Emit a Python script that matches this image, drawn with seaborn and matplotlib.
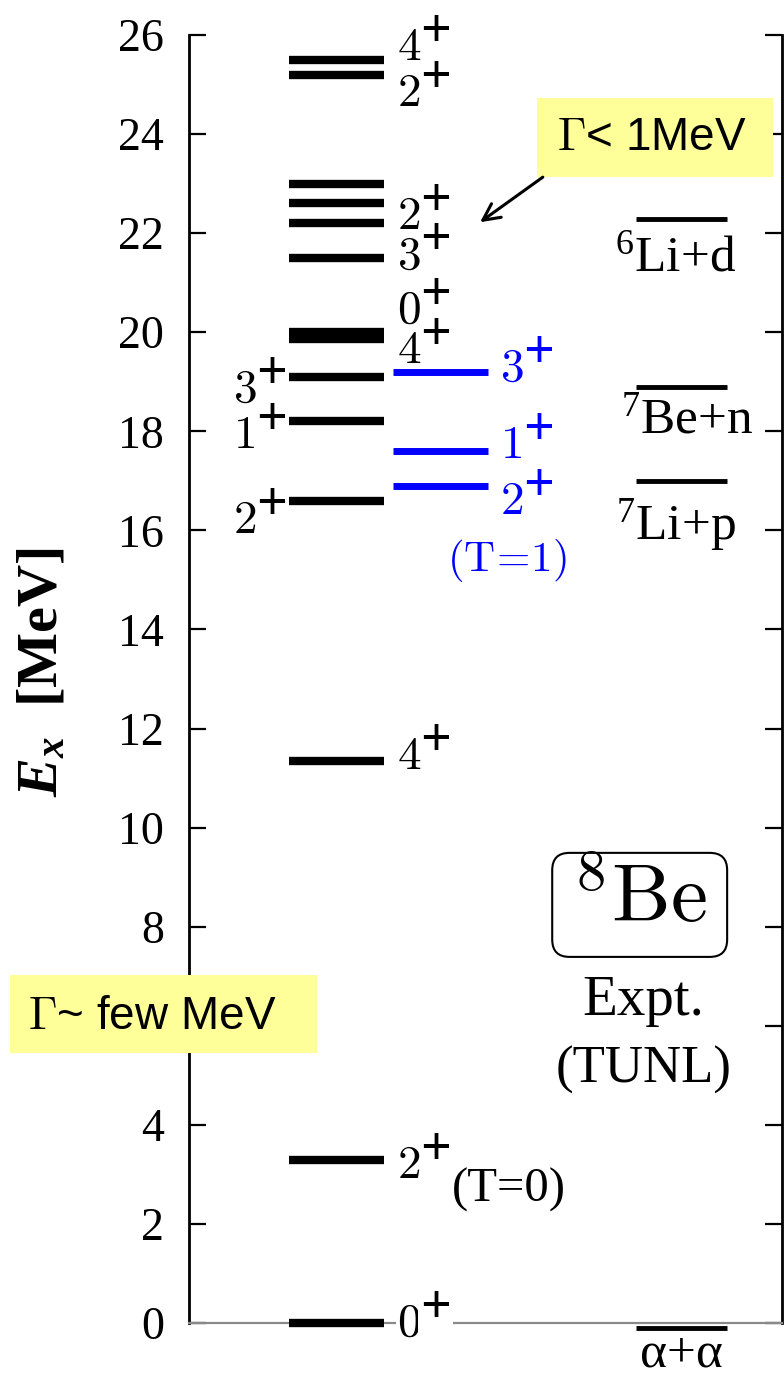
import matplotlib
matplotlib.use("Agg")
import matplotlib.pyplot as plt
from matplotlib.patches import Rectangle, FancyBboxPatch
import seaborn as sns

# ---------------- data ----------------
t0_levels = [0.0, 3.3, 11.35, 16.6, 18.2, 19.1, 19.86, 20.0, 21.5, 22.2, 22.6, 23.0, 25.2, 25.5]
t1_levels = [16.9, 17.6, 19.2]
thr_levels = [-0.1, 17.0, 18.9, 22.28]
thr_names = ["α+α", r"$^{\mathrm{7}}$Li+p", r"$^{\mathrm{7}}$Be+n", r"$^{\mathrm{6}}$Li+d"]
thr_label_y = [-0.64, 16.1, 18.23, 21.5]
thr_label_x = [9.96, 9.85, 10.08, 9.85]

right_jp = ["0", "2", "4", "4", "0", "3", "2", "2", "4"]
right_jp_y = [0.05, 3.23, 11.5, 19.68, 20.5, 21.6, 22.4, 24.87, 25.8]
left_jp = ["2", "1", "3"]
left_jp_y = [16.25, 17.98, 18.9]
t1_jp = ["2", "1", "3"]
t1_jp_y = [16.65, 17.77, 19.32]

yticks = list(range(0, 27, 2))
ytick_labels = [str(v) if v != 6 else "" for v in yticks]

# ---------------- style ----------------
sns.set_style("ticks")
plt.rcParams.update({
    "font.family": ["Liberation Serif", "DejaVu Serif"],
    "text.color": "black",
    "axes.labelcolor": "black",
    "ytick.color": "black",
    "xtick.color": "black",
    "mathtext.fontset": "cm",
    "mathtext.rm": "Liberation Serif",
    "mathtext.it": "Liberation Serif:italic:bold",
    "mathtext.bf": "Liberation Serif:bold",
})

W, H = 784, 1376
fig = plt.figure(figsize=(W / 100, H / 100), dpi=100)
x0, x1 = 189, 782
y0 = 1323
ppu = 49.54
ax = fig.add_axes([x0 / W, 1 - y0 / H, (x1 - x0) / W, y0 / H])
ax.set_xlim(0, 12)
ax.set_ylim(0, y0 / ppu)

# spines
for s in ["left", "right"]:
    ax.spines[s].set_bounds(0, 26)
    ax.spines[s].set_linewidth(2)
    ax.spines[s].set_color("black")
ax.spines["top"].set_visible(False)
ax.spines["bottom"].set_color("#8a8a8a")
ax.spines["bottom"].set_linewidth(1.6)

ax.set_yticks(yticks)
ax.set_yticklabels(ytick_labels)
ax.set_xticks([])
ax.tick_params(axis="y", direction="in", length=12, width=1.6, left=True, right=True,
               labelleft=True, labelright=False, labelsize=33, pad=18,
               colors="black", labelcolor="black")
for lab in ax.get_yticklabels():
    lab.set_fontfamily("Liberation Serif")

# ---------------- levels ----------------
ax.hlines(t0_levels, 2.02, 3.95, colors="black", linewidth=6.0, zorder=3, clip_on=False)
ax.hlines(t1_levels, 4.13, 6.05, colors="#0000ff", linewidth=5.0, zorder=3, clip_on=False)
ax.hlines(thr_levels, 9.05, 10.89, colors="black", linewidth=3.5, zorder=3, clip_on=False)

half = 0.31
PX = 72 / 100  # points per pixel


def jp_label(x, y, digit, color, white_bg=False):
    kw = {}
    if white_bg:
        kw = dict(bbox=dict(facecolor="white", edgecolor="none", pad=1))
    ax.text(x, y - half, rf"${digit}$", fontsize=34, ha="left", va="baseline",
            color=color, zorder=4, clip_on=False, **kw)
    ax.annotate("+", xy=(x, y - half), xytext=(23 * PX, 14 * PX),
                textcoords="offset points", fontsize=39, fontweight="bold",
                fontfamily="Liberation Serif", ha="left", va="baseline",
                color=color, zorder=4, annotation_clip=False, **kw)


for jp, y in zip(right_jp, right_jp_y):
    jp_label(4.21, y, jp, "black", white_bg=(y < 1))
for jp, y in zip(left_jp, left_jp_y):
    jp_label(0.89, y, jp, "black")
for jp, y in zip(t1_jp, t1_jp_y):
    jp_label(6.29, y, jp, "#0000ff")

ax.text(6.43, 15.4, r"$\mathrm{(T\!=\!1)}$", fontsize=31, ha="center", va="center", color="#0000ff")
ax.text(5.32, 2.68, "(T=0)", fontsize=35, ha="left", va="center", color="black",
        fontfamily="Liberation Serif")

for name, tx, ty in zip(thr_names, thr_label_x, thr_label_y):
    ax.text(tx, ty, name, fontsize=37, ha="center", va="center", color="black",
            fontfamily="Liberation Serif", math_fontfamily="custom", clip_on=False)

# 8Be box
box = FancyBboxPatch((7.35, 7.39), 10.89 - 7.35, 9.49 - 7.39,
                     boxstyle="round,pad=0,rounding_size=0.35",
                     facecolor="white", edgecolor="black", linewidth=1.5, zorder=3)
ax.add_patch(box)
ax.text(9.13, 8.5, r"$^{8}\mathrm{Be}$", fontsize=60, ha="center", va="center",
        math_fontfamily="cm", zorder=4, color="black")
ax.text(9.19, 6.5, "Expt.", fontsize=41, ha="center", va="center", fontfamily="Liberation Serif")
ax.text(9.19, 5.11, "(TUNL)", fontsize=38, ha="center", va="center", fontfamily="Liberation Serif")

# yellow annotation boxes
yellow = "#ffff99"
ax.add_patch(Rectangle((7.04, 23.13), 11.82 - 7.04, 24.73 - 23.13, facecolor=yellow,
                       edgecolor="none", zorder=5, clip_on=False))
ax.text(7.45, 23.93, r"$\Gamma$< 1MeV", fontsize=33, ha="left", va="center",
        fontfamily="Liberation Sans", math_fontfamily="cm", zorder=6, clip_on=False)
ax.annotate("", xy=(5.89, 22.22), xytext=(7.16, 23.13),
            arrowprops=dict(arrowstyle="->", color="black", lw=2.2, mutation_scale=30,
                            shrinkA=0, shrinkB=0), zorder=6)

ax.add_patch(Rectangle((-3.62, 5.45), 2.59 + 3.62, 7.02 - 5.45, facecolor=yellow,
                       edgecolor="none", zorder=5, clip_on=False))
ax.text(-3.26, 6.18, r"$\Gamma$~ few MeV", fontsize=33, ha="left", va="center",
        fontfamily="Liberation Sans", math_fontfamily="cm", zorder=6, clip_on=False)

# y label
fig.text(43 / W, 1 - 672 / H, r"$E_x$  [MeV]", rotation=90, fontsize=42, fontweight="bold",
         ha="center", va="center", fontfamily="Liberation Serif", math_fontfamily="custom",
         color="black")

fig.savefig("out.png", dpi=100)
